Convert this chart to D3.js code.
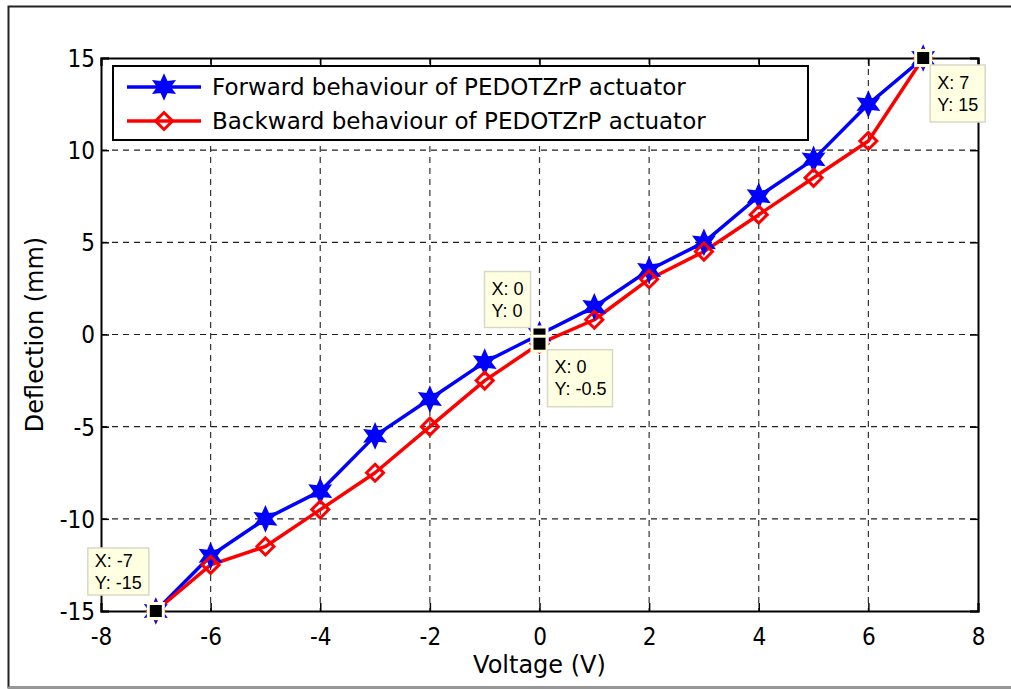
<!DOCTYPE html>
<html>
<head>
<meta charset="utf-8">
<script src="https://cdn.jsdelivr.net/npm/d3@7"></script>
<style>
  body { margin: 0; background: #fff; }
  svg text { font-family: "DejaVu Sans", sans-serif; fill: #000; }
  .tick-lab { font-family: "DejaVu Sans Condensed", "DejaVu Sans", sans-serif; font-stretch: condensed; font-size: 24px; }
  .tip text { font-family: "Liberation Sans", Arial, sans-serif; font-size: 18px; }
</style>
</head>
<body>
<script>
// data
var voltage = [-7, -6, -5, -4, -3, -2, -1, 0, 1, 2, 3, 4, 5, 6, 7];
var forward = [-15, -12, -10, -8.5, -5.5, -3.5, -1.5, 0, 1.5, 3.5, 5, 7.5, 9.5, 12.5, 15];
var backward = [-15, -12.5, -11.5, -9.5, -7.5, -5, -2.5, -0.5, 0.8, 3, 4.5, 6.5, 8.5, 10.5, 15];
var xTicks = [-8, -6, -4, -2, 0, 2, 4, 6, 8];
var yTicks = [-15, -10, -5, 0, 5, 10, 15];
var seriesNames = ["Forward behaviour of PEDOTZrP actuator", "Backward behaviour of PEDOTZrP actuator"];
var dataTips = [{x: 0, y: 0}, {x: 0, y: -0.5}, {x: -7, y: -15}, {x: 7, y: 15}];

var W = 1011, H = 689;
var margin = {top: 58, right: 33, bottom: 78, left: 101},
    width = W - margin.left - margin.right,
    height = H - margin.top - margin.bottom;

var svg = d3.select("body").append("svg")
  .attr("width", W)
  .attr("height", H);

// outer frame
svg.append("rect")
  .attr("x", 8.5).attr("y", 6.5)
  .attr("width", W + 10).attr("height", H - 8)
  .style("fill", "none").style("stroke", "#222").style("stroke-width", 2);
svg.append("line")
  .attr("x1", 8).attr("x2", W).attr("y1", H - 1.5).attr("y2", H - 1.5)
  .style("stroke", "#999").style("stroke-width", 2);

var g = svg.append("g")
  .attr("transform", "translate(" + margin.left + "," + margin.top + ")");

var xScale = d3.scaleLinear().domain([-8, 8]).range([0, width]);
var yScale = d3.scaleLinear().domain([-15, 15]).range([height, 0]);

// grid
g.selectAll(".vgrid")
  .data(xTicks.slice(1, -1))
  .enter().append("line")
    .attr("x1", function(d) { return xScale(d); })
    .attr("x2", function(d) { return xScale(d); })
    .attr("y1", 0).attr("y2", height)
    .style("stroke", "#333").style("stroke-width", 1.2)
    .style("stroke-dasharray", "6,5");
g.selectAll(".hgrid")
  .data(yTicks.slice(1, -1))
  .enter().append("line")
    .attr("x1", 0).attr("x2", width)
    .attr("y1", function(d) { return yScale(d); })
    .attr("y2", function(d) { return yScale(d); })
    .style("stroke", "#222").style("stroke-width", 1.2)
    .style("stroke-dasharray", "6,5");

// axes (ticks inward, box on all sides)
var plainNum = function(d) { return String(d); };
var xAxis = g.append("g")
  .attr("transform", "translate(0," + height + ")")
  .call(d3.axisBottom(xScale).tickValues(xTicks).tickSize(-8).tickPadding(14).tickFormat(plainNum));
var yAxis = g.append("g")
  .call(d3.axisLeft(yScale).tickValues(yTicks).tickSize(-8).tickPadding(6).tickFormat(plainNum));
g.append("g")
  .call(d3.axisTop(xScale).tickValues(xTicks).tickSize(-8).tickFormat(""));
g.append("g")
  .attr("transform", "translate(" + width + ",0)")
  .call(d3.axisRight(yScale).tickValues(yTicks).tickSize(-8).tickFormat(""));

g.selectAll(".domain").style("stroke", "#000").style("stroke-width", 2);
g.selectAll(".tick line").style("stroke", "#000").style("stroke-width", 1.5);
xAxis.selectAll("text").attr("class", "tick-lab").attr("dy", "0.85em");
yAxis.selectAll("text").attr("class", "tick-lab").attr("dy", "0.35em");
xAxis.attr("font-family", null).attr("font-size", null);
yAxis.attr("font-family", null).attr("font-size", null);

// axis labels
g.append("text")
  .attr("x", width / 2).attr("y", height + 62)
  .style("text-anchor", "middle").style("font-size", "24px")
  .text("Voltage (V)");
g.append("text")
  .attr("transform", "rotate(-90)")
  .attr("x", -height / 2).attr("y", -58)
  .style("text-anchor", "middle").style("font-size", "24px")
  .text("Deflection (mm)");

// lines
var lineData = [forward, backward];
var colors = ["#0000ff", "#ff0000"];
var line_generator = d3.line()
  .x(function(d, i) { return xScale(voltage[i]); })
  .y(function(d) { return yScale(d); });

var hexagram = function(r) {
  // six-pointed star
  var pts = [];
  for (var k = 0; k < 12; k++) {
    var a = -Math.PI / 2 + k * Math.PI / 6;
    var rr = (k % 2 == 0) ? r : r * 0.5;
    pts.push([rr * Math.cos(a), rr * Math.sin(a)]);
  }
  return "M" + pts.join("L") + "Z";
};
var diamond = function(r) {
  return "M0," + (-r) + "L" + r + ",0L0," + r + "L" + (-r) + ",0Z";
};

function drawMarker(sel, idx, x, y) {
  if (idx == 0) {
    sel.append("path")
      .attr("d", hexagram(12))
      .attr("transform", "translate(" + x + "," + y + ")")
      .style("fill", colors[0]).style("stroke", colors[0]).style("stroke-width", 1.5);
  } else {
    sel.append("path")
      .attr("d", diamond(8.5))
      .attr("transform", "translate(" + x + "," + y + ")")
      .style("fill", "none").style("stroke", colors[1]).style("stroke-width", 3);
  }
}

lineData.forEach(function(series, si) {
  g.append("path")
    .datum(series)
    .attr("d", line_generator)
    .style("fill", "none")
    .style("stroke", colors[si])
    .style("stroke-width", 3.5)
    .style("stroke-linejoin", "round");
});
lineData.forEach(function(series, si) {
  series.forEach(function(v, i) {
    drawMarker(g, si, xScale(voltage[i]), yScale(v));
  });
});

// legend
var legend = g.append("g").attr("transform", "translate(12,8)");
legend.append("rect")
  .attr("x", 0).attr("y", 0).attr("width", 695).attr("height", 74)
  .style("fill", "#fff").style("stroke", "#000").style("stroke-width", 2);
seriesNames.forEach(function(name, i) {
  var ly = 21 + i * 34;
  legend.append("line")
    .attr("x1", 14).attr("x2", 88).attr("y1", ly).attr("y2", ly)
    .style("stroke", colors[i]).style("stroke-width", 3.5);
  drawMarker(legend, i, 51, ly);
  legend.append("text")
    .attr("x", 99).attr("y", ly).attr("dy", "0.36em")
    .style("font-size", "23px")
    .text(name);
});

// data tips
var tipBoxes = [
  {dx: -55, dy: -63, w: 46, h: 56},
  {dx: 8, dy: 6, w: 65, h: 57},
  {dx: -68, dy: -63, w: 61, h: 47},
  {dx: 7, dy: 7, w: 55, h: 57}
];
var tipLayer = g.append("g").attr("class", "tip");
dataTips.forEach(function(t, i) {
  var px = xScale(t.x), py = yScale(t.y), b = tipBoxes[i];
  tipLayer.append("rect")
    .attr("x", px - 9).attr("y", py - 9).attr("width", 18).attr("height", 18)
    .style("fill", "#ffffe1");
  tipLayer.append("rect")
    .attr("x", px - 6).attr("y", py - 6).attr("width", 12).attr("height", 12)
    .style("fill", "#000");
  var box = tipLayer.append("g").attr("transform", "translate(" + (px + b.dx) + "," + (py + b.dy) + ")");
  box.append("rect")
    .attr("width", b.w).attr("height", b.h)
    .style("fill", "#ffffe1").style("stroke", "#d8d8c8").style("stroke-width", 1.5);
  box.append("text").attr("x", 7).attr("y", b.h / 2 - 5).text("X: " + t.x);
  box.append("text").attr("x", 7).attr("y", b.h / 2 + 17).text("Y: " + t.y);
});
</script>
</body>
</html>
